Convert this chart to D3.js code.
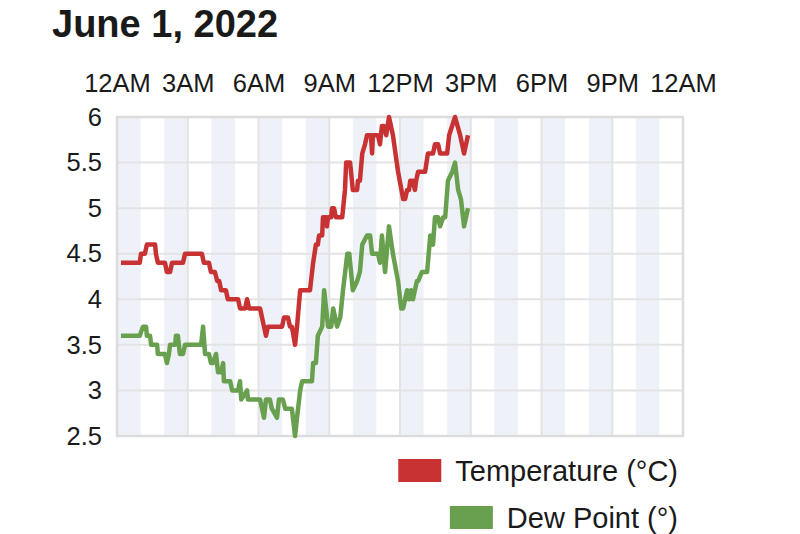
<!DOCTYPE html>
<html>
<head>
<meta charset="utf-8">
<script src="https://cdn.jsdelivr.net/npm/d3@7"></script>
<style>
  body { margin: 0; background: #fff; }
  svg { display: block; font-family: "Liberation Sans", Arial, sans-serif; }
</style>
</head>
<body>
<script>
// June 1, 2022 - temperature and dew point through the day

var width = 800;
var height = 534;

var day = "2022-06-01";
var title = "June 1, 2022";
var xTickLabels = ["12AM", "3AM", "6AM", "9AM", "12PM", "3PM", "6PM", "9PM", "12AM"];
var yTicks = [2.5, 3, 3.5, 4, 4.5, 5, 5.5, 6];

// readings, [time, value]
var temperature = [
  ["0:10", 4.4], ["0:58", 4.4], ["1:01", 4.5], ["1:11", 4.5], ["1:16", 4.6], ["1:37", 4.6],
  ["1:39", 4.5], ["1:44", 4.4], ["2:02", 4.4], ["2:07", 4.3], ["2:15", 4.3], ["2:20", 4.4],
  ["2:48", 4.4], ["2:53", 4.5], ["3:36", 4.5], ["3:41", 4.4], ["3:54", 4.4], ["3:59", 4.3],
  ["4:09", 4.3], ["4:15", 4.2], ["4:20", 4.2], ["4:25", 4.1], ["4:37", 4.1], ["4:42", 4.0],
  ["5:08", 4.0], ["5:13", 3.9], ["5:26", 3.9], ["5:31", 4.0], ["5:36", 3.9], ["6:04", 3.9],
  ["6:09", 3.8], ["6:14", 3.7], ["6:19", 3.6], ["6:24", 3.7], ["7:00", 3.7], ["7:05", 3.8],
  ["7:15", 3.8], ["7:20", 3.7], ["7:25", 3.7], ["7:33", 3.5], ["7:38", 3.7], ["7:46", 4.1],
  ["8:11", 4.1], ["8:19", 4.4], ["8:26", 4.6], ["8:31", 4.6], ["8:34", 4.7], ["8:42", 4.7],
  ["8:44", 4.9], ["8:52", 4.9], ["8:54", 4.8], ["8:57", 4.9], ["9:05", 4.9], ["9:07", 5.0],
  ["9:12", 5.0], ["9:17", 4.9], ["9:33", 4.9], ["9:40", 5.2], ["9:43", 5.5], ["9:53", 5.5],
  ["10:00", 5.2], ["10:11", 5.2], ["10:13", 5.3], ["10:18", 5.3], ["10:24", 5.6], ["10:31", 5.7],
  ["10:36", 5.8], ["10:46", 5.8], ["10:49", 5.6], ["10:51", 5.8], ["11:04", 5.8], ["11:09", 5.7],
  ["11:14", 5.9], ["11:19", 5.9], ["11:25", 5.8], ["11:32", 6.0], ["11:42", 5.8], ["11:55", 5.4],
  ["12:08", 5.1], ["12:13", 5.1], ["12:18", 5.2], ["12:23", 5.2], ["12:26", 5.3], ["12:33", 5.3],
  ["12:38", 5.2], ["12:41", 5.3], ["12:46", 5.4], ["13:04", 5.4], ["13:11", 5.6], ["13:24", 5.6],
  ["13:29", 5.7], ["13:37", 5.7], ["13:42", 5.6], ["14:00", 5.6], ["14:05", 5.8], ["14:20", 6.0],
  ["14:33", 5.8], ["14:43", 5.6], ["14:53", 5.8]
];

var dewPoint = [
  ["0:10", 3.6], ["0:58", 3.6], ["1:06", 3.7], ["1:14", 3.7], ["1:16", 3.6], ["1:24", 3.6],
  ["1:27", 3.5], ["1:42", 3.5], ["1:44", 3.4], ["2:02", 3.4], ["2:07", 3.3], ["2:12", 3.4],
  ["2:15", 3.5], ["2:28", 3.5], ["2:30", 3.6], ["2:35", 3.6], ["2:40", 3.4], ["2:48", 3.4],
  ["2:53", 3.5], ["3:34", 3.5], ["3:39", 3.7], ["3:44", 3.4], ["3:54", 3.4], ["3:59", 3.3],
  ["4:04", 3.3], ["4:12", 3.4], ["4:17", 3.2], ["4:25", 3.2], ["4:30", 3.3], ["4:32", 3.1],
  ["4:48", 3.1], ["4:53", 3.0], ["5:08", 3.0], ["5:13", 3.1], ["5:16", 2.9], ["5:31", 3.0],
  ["5:33", 2.9], ["6:04", 2.9], ["6:09", 2.8], ["6:14", 2.7], ["6:19", 2.9], ["6:29", 2.9],
  ["6:34", 2.8], ["6:47", 2.7], ["6:52", 2.9], ["7:02", 2.9], ["7:08", 2.8], ["7:25", 2.8],
  ["7:33", 2.5], ["7:38", 2.7], ["7:46", 3.0], ["7:51", 3.1], ["8:16", 3.1], ["8:19", 3.3],
  ["8:26", 3.3], ["8:31", 3.6], ["8:42", 3.7], ["8:47", 4.1], ["8:52", 3.9], ["8:57", 3.7],
  ["9:05", 3.7], ["9:10", 3.9], ["9:20", 3.7], ["9:28", 3.8], ["9:35", 4.1], ["9:46", 4.5],
  ["9:51", 4.5], ["10:00", 4.1], ["10:11", 4.2], ["10:18", 4.3], ["10:24", 4.6], ["10:36", 4.7],
  ["10:44", 4.7], ["10:49", 4.5], ["11:04", 4.5], ["11:09", 4.4], ["11:14", 4.7], ["11:22", 4.3],
  ["11:32", 4.8], ["11:42", 4.5], ["11:55", 4.2], ["12:03", 3.9], ["12:08", 3.9], ["12:18", 4.1],
  ["12:23", 4.0], ["12:28", 4.1], ["12:33", 4.0], ["12:43", 4.2], ["12:46", 4.2], ["12:56", 4.3],
  ["13:09", 4.3], ["13:17", 4.7], ["13:24", 4.6], ["13:29", 4.9], ["13:37", 4.9], ["13:42", 4.8],
  ["13:50", 4.9], ["13:55", 4.9], ["14:02", 5.3], ["14:13", 5.4], ["14:20", 5.5], ["14:28", 5.2],
  ["14:35", 5.1], ["14:43", 4.8], ["14:53", 5.0]
];

var seriesNames = ["Temperature (°C)", "Dew Point (°)"];
var seriesColors = ["#c83232", "#68a04f"];

var parseTime = d3.timeParse("%Y-%m-%d %H:%M");
var dayStart = parseTime(day + " 0:00");
var dayEnd = d3.timeDay.offset(dayStart, 1);

var plot = { left: 117, right: 683, top: 117, bottom: 436 };

var xScale = d3.scaleTime()
               .domain([dayStart, dayEnd])
               .range([plot.left, plot.right]);

var yScale = d3.scaleLinear()
               .domain([d3.min(yTicks), d3.max(yTicks)])
               .range([plot.bottom, plot.top]);

var svg = d3.select("body")
            .append("svg")
            .attr("width", width)
            .attr("height", height);

svg.append("text")
   .attr("x", 52)
   .attr("y", 37)
   .attr("font-size", "38px")
   .attr("font-weight", "bold")
   .attr("fill", "#1a1a1a")
   .text(title);

// shaded every other hour
svg.append("g")
   .selectAll("rect")
   .data(d3.timeHour.range(dayStart, dayEnd, 1).filter(function(d, i){ return i % 2 === 0; }))
   .enter()
   .append("rect")
   .attr("x", function(d){ return xScale(d); })
   .attr("y", plot.top)
   .attr("width", function(d){ return xScale(d3.timeHour.offset(d, 1)) - xScale(d); })
   .attr("height", plot.bottom - plot.top)
   .attr("fill", "#eef2f8");

// grid
var hourTicks = d3.timeHour.range(dayStart, d3.timeMinute.offset(dayEnd, 1), 3);

svg.append("g")
   .selectAll("line")
   .data(yTicks)
   .enter()
   .append("line")
   .attr("x1", plot.left)
   .attr("x2", plot.right)
   .attr("y1", function(d){ return yScale(d); })
   .attr("y2", function(d){ return yScale(d); })
   .attr("stroke", "#e3e3e3")
   .attr("stroke-width", 2);

svg.append("g")
   .selectAll("line")
   .data(hourTicks)
   .enter()
   .append("line")
   .attr("x1", function(d){ return xScale(d); })
   .attr("x2", function(d){ return xScale(d); })
   .attr("y1", plot.top)
   .attr("y2", plot.bottom)
   .attr("stroke", "#e3e3e3")
   .attr("stroke-width", 2);

svg.append("rect")
   .attr("x", plot.left)
   .attr("y", plot.top)
   .attr("width", plot.right - plot.left)
   .attr("height", plot.bottom - plot.top)
   .attr("fill", "none")
   .attr("stroke", "#dcdcdc")
   .attr("stroke-width", 2.5);

// axes (labels only)
var xAxis = d3.axisTop(xScale)
              .tickValues(hourTicks)
              .tickSize(0)
              .tickFormat(function(d, i){ return xTickLabels[i]; });

var yAxis = d3.axisLeft(yScale)
              .tickValues(yTicks)
              .tickSize(0)
              .tickFormat(d3.format("~g"));

var gx = svg.append("g")
   .attr("transform", "translate(0," + 95 + ")")
   .call(xAxis);

var gy = svg.append("g")
   .attr("transform", "translate(" + 102 + ",0)")
   .call(yAxis);

[gx, gy].forEach(function(g){
  g.select(".domain").remove();
  g.selectAll("text")
   .attr("font-family", "'Liberation Sans', Arial, sans-serif")
   .attr("font-size", "25.5px")
   .attr("fill", "#1a1a1a");
});
gx.selectAll("text").attr("dy", 0);
gy.selectAll("text").attr("x", 0);

// lines
var line = d3.line()
             .x(function(d){ return xScale(parseTime(day + " " + d[0])); })
             .y(function(d){ return yScale(d[1]); });

[temperature, dewPoint].forEach(function(series, i){
  svg.append("path")
     .datum(series)
     .attr("d", line)
     .attr("fill", "none")
     .attr("stroke", seriesColors[i])
     .attr("stroke-width", 4.5)
     .attr("stroke-linejoin", "round");
});

// legend, right aligned
var legend = svg.append("g");
seriesNames.forEach(function(name, i){
  var y = 459 + i * 47;
  var t = legend.append("text")
     .attr("x", 678)
     .attr("y", y + 22)
     .attr("text-anchor", "end")
     .attr("font-size", "29px")
     .attr("fill", "#1a1a1a")
     .text(name);
  var w = t.node().getComputedTextLength();
  legend.append("rect")
     .attr("x", 678 - w - 14 - 43)
     .attr("y", y)
     .attr("width", 43)
     .attr("height", 23)
     .attr("fill", seriesColors[i]);
});
</script>
</body>
</html>
